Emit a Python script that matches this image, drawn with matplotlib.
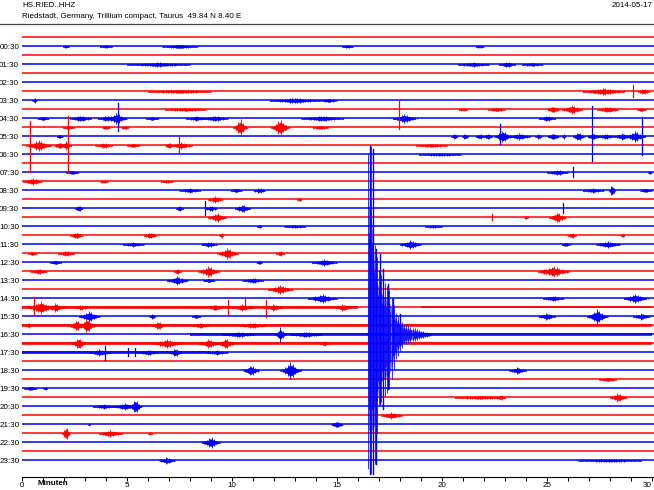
import matplotlib
matplotlib.use('Agg')
import numpy as np
import matplotlib.pyplot as plt
from matplotlib.lines import Line2D

plt.rcParams['font.family'] = ['Liberation Sans', 'DejaVu Sans']

station = 'HS.RIED..HHZ'
site = 'Riedstadt, Germany, Trillium compact, Taurus  49.84 N 8.40 E'
day = '2014-05-17'

n_rows = 48                      # one trace per half hour
row_labels = ['%02d:30' % h for h in range(24)]
row_colors = ['#ff0000', '#0000ff']
px_per_row = 9.0                 # amplitudes below are in pixels

# bursts: row, minute, amplitude, half width (minutes)
bursts = [
    (1, 2.1, 1.2, 0.15), (1, 4.0, 1.0, 0.3), (1, 7.5, 1.5, 0.9), (1, 15.5, 1.0, 0.3), (1, 21.8, 1.0, 0.2),
    (3, 6.5, 1.5, 1.5), (3, 21.5, 1.5, 0.8), (3, 23.1, 2.5, 0.4), (3, 24.3, 1.2, 0.5),
    (6, 7.5, 1.2, 1.5), (6, 27.7, 3, 1.0), (6, 29.6, 2, 0.3),
    (7, 0.6, 2, 0.1), (7, 13.0, 2, 1.2), (7, 14.6, 1.5, 0.4),
    (8, 7.8, 1.2, 1.0), (8, 21.0, 1.0, 0.2), (8, 22.6, 1.5, 0.4), (8, 25.3, 3, 0.3),
    (8, 26.2, 4, 0.5), (8, 27.9, 2.5, 0.5), (8, 29.5, 1.5, 0.2),
    (9, 1.0, 1.5, 0.3), (9, 2.8, 2.5, 0.5), (9, 4.0, 2.0, 0.4), (9, 4.5, 5, 0.5), (9, 6.2, 1.5, 0.3),
    (9, 8.3, 1.5, 0.5), (9, 9.2, 2, 0.6), (9, 14.3, 2, 1.0), (9, 18.2, 4, 0.6), (9, 25.0, 2, 0.4),
    (10, 2.2, 1.5, 0.3), (10, 4.0, 1.5, 0.2), (10, 4.9, 1.2, 0.2), (10, 10.4, 8, 0.35), (10, 12.3, 8, 0.45),
    (10, 14.2, 1.2, 0.4),
    (11, 1.8, 1.5, 0.15), (11, 20.6, 2.5, 0.15), (11, 21.1, 2.5, 0.15), (11, 21.8, 2, 0.2),
    (11, 22.2, 3, 0.2), (11, 22.9, 6, 0.4), (11, 23.7, 3, 0.5), (11, 24.6, 2, 0.15), (11, 25.3, 3, 0.3),
    (11, 25.8, 2, 0.1), (11, 26.5, 4, 0.3), (11, 27.2, 3, 0.3), (11, 27.8, 2, 0.4), (11, 28.6, 3, 0.4),
    (11, 29.2, 5, 0.5),
    (12, 0.8, 5, 0.6), (12, 1.8, 3, 0.3), (12, 2.1, 4, 0.25), (12, 3.9, 2, 0.4), (12, 5.3, 1.5, 0.3),
    (12, 7.0, 3, 0.2), (12, 7.6, 3, 0.5), (12, 19.5, 1.2, 0.8),
    (13, 19.9, 1, 1.0),
    (15, 2.4, 1.5, 0.3), (15, 25.5, 2, 0.5), (15, 29.9, 1.5, 0.1),
    (16, 0.5, 3, 0.45), (16, 3.9, 1, 0.2), (16, 6.9, 1, 0.3),
    (17, 8.0, 1.5, 0.5), (17, 10.2, 1.5, 0.3), (17, 11.3, 2, 0.3), (17, 27.2, 1.5, 0.5),
    (17, 28.1, 6, 0.15), (17, 29.7, 1.5, 0.3),
    (18, 9.2, 3, 0.35), (18, 13.2, 1.5, 0.1),
    (19, 2.7, 3, 0.2), (19, 7.5, 2.5, 0.2), (19, 9.0, 2, 0.3), (19, 10.5, 3.5, 0.4),
    (20, 9.3, 4, 0.45), (20, 24.0, 1.5, 0.1), (20, 25.5, 5, 0.4),
    (21, 11.3, 1.2, 0.1), (21, 13.0, 1, 0.5), (21, 19.6, 1, 0.4),
    (22, 2.6, 3, 0.3), (22, 6.1, 2.5, 0.3), (22, 9.5, 2, 0.1), (22, 26.2, 2, 0.2), (22, 28.6, 1.5, 0.1),
    (23, 5.3, 1.5, 0.5), (23, 8.9, 2, 0.4), (23, 18.5, 4, 0.5), (23, 25.9, 1.5, 0.2), (23, 27.9, 3, 0.6),
    (24, 0.5, 1.5, 0.2), (24, 2.1, 2, 0.4), (24, 9.8, 5, 0.5), (24, 12.3, 2, 0.2),
    (25, 1.6, 1.5, 0.3), (25, 11.3, 1.5, 0.15), (25, 14.4, 3, 0.6),
    (26, 0.8, 2, 0.4), (26, 7.4, 2, 0.2), (26, 8.9, 5, 0.5), (26, 25.3, 5, 0.8),
    (27, 7.4, 4, 0.5), (27, 8.9, 1.5, 0.3), (27, 11.0, 2, 0.5),
    (28, 12.3, 4, 0.6),
    (29, 14.3, 4, 0.7), (29, 25.3, 2, 0.5), (29, 29.2, 4, 0.6),
    (30, 0.9, 6, 0.6), (30, 1.6, 4, 0.4), (30, 2.8, 2, 0.3), (30, 9.2, 3, 0.3), (30, 10.5, 3, 0.5),
    (30, 12.0, 3, 0.4), (30, 15.3, 3, 0.4),
    (31, 3.2, 5, 0.5), (31, 6.2, 2, 0.15), (31, 8.3, 1.5, 0.2), (31, 25.0, 3, 0.4), (31, 27.4, 7, 0.5),
    (31, 29.5, 3, 0.4),
    (32, 0.3, 2, 0.1), (32, 2.6, 5, 0.4), (32, 3.1, 7, 0.4), (32, 6.5, 4, 0.3), (32, 8.5, 2, 0.4),
    (32, 11.0, 2, 0.6),
    (33, 10.3, 2, 0.8), (33, 12.3, 7, 0.25), (33, 13.5, 2, 0.8),
    (34, 2.7, 6, 0.3), (34, 6.9, 4, 0.7), (34, 8.9, 4, 0.5), (34, 9.7, 5, 0.4), (34, 14.4, 2, 0.2),
    (35, 3.7, 3, 0.5), (35, 6.0, 2, 0.5), (35, 7.3, 4, 0.3), (35, 9.3, 1.5, 0.5),
    (37, 10.9, 5, 0.4), (37, 12.8, 8, 0.5), (37, 23.6, 3, 0.4),
    (38, 27.9, 1.5, 0.4),
    (39, 0.4, 1.5, 0.3), (39, 1.1, 1, 0.1),
    (40, 21.8, 1.2, 1.2), (40, 22.8, 2, 0.2), (40, 28.4, 4, 0.4),
    (41, 3.9, 1.5, 0.6), (41, 4.9, 3, 0.6), (41, 5.4, 7, 0.3),
    (42, 17.6, 3, 0.5),
    (43, 3.2, 1.2, 0.05), (43, 15.0, 3, 0.3),
    (44, 2.1, 7, 0.2), (44, 4.2, 3, 0.6), (44, 6.1, 1.2, 0.1),
    (45, 9.0, 5, 0.45),
    (47, 6.9, 3, 0.4), (47, 28.0, 1, 1.5),
]

# noisy stretches: row, start, end, amplitude
noise = [
    (30, 0.0, 16.0, 1.3), (30, 19.0, 30.0, 1.0),
    (32, 0.0, 30.0, 1.2),
    (33, 8.0, 30.0, 1.3),
    (34, 0.0, 30.0, 1.1),
    (35, 0.0, 9.0, 1.3),
]

# single spikes: row, minute, up, down
spikes = [
    (12, 0.38, 24, 27), (12, 2.19, 29, 27), (11, 27.14, 30, 25), (11, 29.52, 19, 19),
    (9, 4.55, 15, 13), (6, 29.1, 6, 6), (11, 22.75, 12, 8), (12, 7.5, 8, 8), (19, 8.71, 7, 7),
    (15, 26.25, 5, 5), (19, 25.75, 5, 5), (20, 22.4, 3, 3), (8, 17.95, 8, 20),
    (30, 0.55, 10, 8), (30, 9.8, 7, 7), (30, 10.6, 10, 2), (30, 11.6, 7, 10),
    (35, 3.95, 6, 8), (35, 5.05, 4, 4), (35, 5.4, 4, 4),
]

# earthquake on the 16:30 trace
quake_row = 33
quake_min = [16.45, 16.5, 16.6, 16.8, 17.0, 17.2, 17.5, 17.8, 18.2, 18.6, 19.0, 19.5]
quake_up = [0, 180, 188, 90, 65, 55, 45, 22, 10, 7, 4, 1.5]
quake_down = [0, 135, 140, 130, 70, 65, 55, 25, 10, 7, 4, 1.5]
quake_lines_min = [16.57, 16.71, 16.86, 17.05, 17.19, 17.43, 17.67, 18.0]
quake_lines_up = [188, 185, 85, 80, 65, 50, 35, 20]
quake_lines_down = [140, 140, 130, 70, 75, 55, 20, 10]

fig = plt.figure(figsize=(6.54, 4.90), dpi=100)
ax = fig.add_axes([22 / 654, 1 - 477 / 490, 632 / 654, 453 / 490])

rows = np.arange(n_rows)
for r in rows:
    ax.plot([0, 30.1], [r, r], color=row_colors[r % 2], lw=1.1, solid_capstyle='butt', zorder=2)

for r, a, b, amp in noise:
    ax.fill_between([a, b], r - amp / px_per_row, r + amp / px_per_row,
                    color=row_colors[r % 2], lw=0, alpha=0.8, zorder=3)

# each burst: a filled core plus a comb of strokes for a ragged edge
for r, m, amp, hw in bursts:
    x = np.linspace(m - hw, m + hw, 21)
    env = amp / px_per_row * (1 - np.abs(x - m) / hw) ** 1.6 + 0.07
    ax.fill_between(x, r - 0.6 * env, r + 0.6 * env, color=row_colors[r % 2], lw=0.3, zorder=3)
    xs = np.arange(m - hw, m + hw, 0.06)
    h = amp / px_per_row * (1 - np.abs(xs - m) / hw) ** 1.6 + 0.07
    h[1::2] *= 0.6
    ax.vlines(xs, r - h, r + h, color=row_colors[r % 2], lw=0.6, zorder=3)

for r, m, up, down in spikes:
    ax.plot([m, m], [r - up / px_per_row, r + down / px_per_row],
            color=row_colors[r % 2], lw=0.9, zorder=4)

qx = np.array(quake_min)
qu = np.array(quake_up) / px_per_row
qd = np.array(quake_down) / px_per_row
ax.fill_between(qx, quake_row - 0.7 * qu, quake_row + 0.7 * qd,
                color='#0000ff', alpha=0.55, lw=0, zorder=5)
xs = np.arange(quake_min[1], quake_min[-1], 0.05)
hu = np.interp(xs, qx, qu)
hd = np.interp(xs, qx, qd)
hu[1::2] *= 0.55
hd[1::2] *= 0.55
ax.vlines(xs, quake_row - hu, quake_row + hd, color='#0000ff', lw=0.7, alpha=0.8, zorder=5)
for m, up, down in zip(quake_lines_min, quake_lines_up, quake_lines_down):
    ax.plot([m, m], [quake_row - up / px_per_row, quake_row + down / px_per_row],
            color='#0000ff', lw=1.0, zorder=6)

ax.set_xlim(0, 30.1)
ax.set_ylim((477 - 37.5) / px_per_row, (24 - 37.5) / px_per_row)
ax.set_yticks(rows[1::2])
ax.set_yticklabels(row_labels)
ax.set_xticks(range(0, 31, 5))
ax.set_xticks(range(0, 31), minor=True)
ax.tick_params(axis='y', length=0, pad=2, labelsize=5.8)
ax.tick_params(axis='x', which='both', length=3, width=0.7, pad=0.5, labelsize=5.8, direction='out')
ax.get_xticklabels()[-1].set_ha('right')
for s in ['top', 'left', 'right']:
    ax.spines[s].set_visible(False)
ax.spines['bottom'].set_linewidth(0.8)

fig.text((22 + 1.48 * 21) / 654, 1 - 483.5 / 490, 'Minuten', ha='center', va='center',
         fontsize=5.8, fontweight='bold')

fig.add_artist(Line2D([0, 1], [1 - 24 / 490, 1 - 24 / 490], color='#444444', lw=0.9))
fig.text(22 / 654, 1 - 5.5 / 490, station, ha='left', va='center', fontsize=5.8)
fig.text(22 / 654, 1 - 16.5 / 490, site, ha='left', va='center', fontsize=5.8)
fig.text(652 / 654, 1 - 5.5 / 490, day, ha='right', va='center', fontsize=5.8)

fig.savefig('out.png', dpi=100)
